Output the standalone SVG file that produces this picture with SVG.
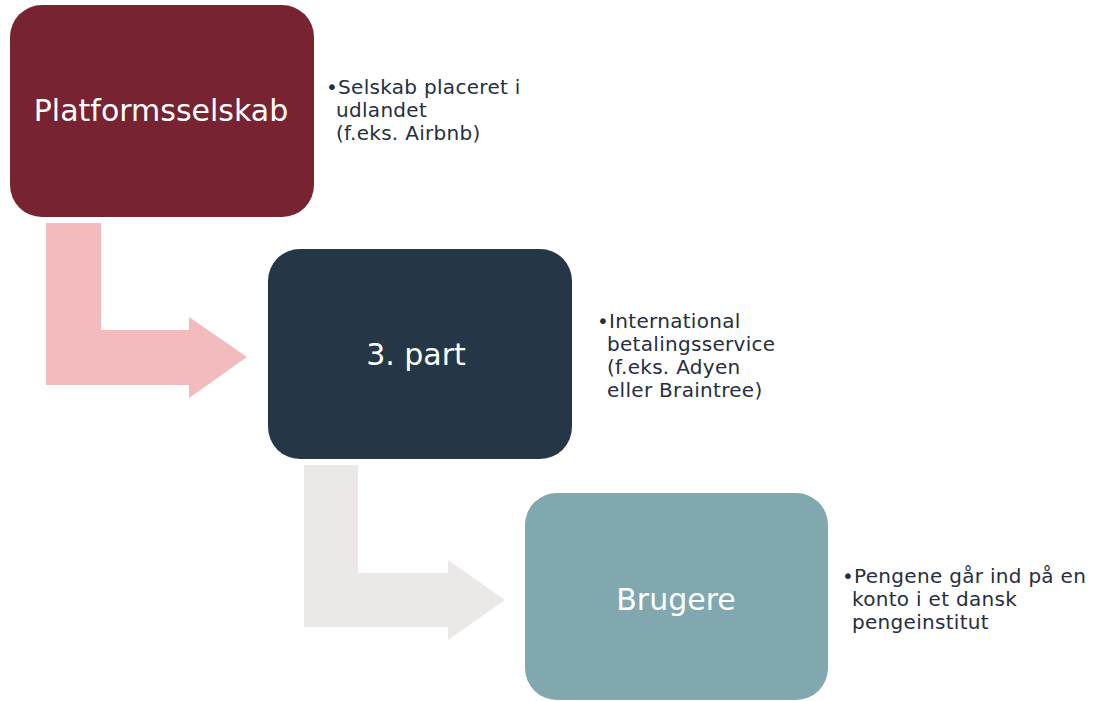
<svg xmlns="http://www.w3.org/2000/svg" width="1101" height="701" viewBox="0 0 1101 701">
<style>
.lbl{font-family:"DejaVu Sans","Liberation Sans",sans-serif;font-size:30px;fill:#ffffff;text-anchor:middle}
.note{font-family:"DejaVu Sans","Liberation Sans",sans-serif;font-size:20px;fill:#262F3D;letter-spacing:0.3px}
</style>
<rect width="1101" height="701" fill="#ffffff"/>
<g id="connectors">
<path d="M46,223 H101 V330 H189 V317 L247,357 L189,398 V385 H46 Z" fill="#F2BBBE"/>
<path d="M304,465 H358 V573 H448 V560 L505,600 L448,640 V627 H304 Z" fill="#ECE8E7"/>
</g>
<g id="node1">
<rect x="10" y="5" width="304" height="212" rx="32" fill="#772331"/>
<text class="lbl" x="161" y="121">Platformsselskab</text>
<text class="note" x="326" y="94">•Selskab placeret i</text>
<text class="note" x="336" y="117">udlandet</text>
<text class="note" x="336" y="140">(f.eks. Airbnb)</text>
</g>
<g id="node2">
<rect x="268" y="249" width="304" height="210" rx="32" fill="#253646"/>
<text class="lbl" x="416" y="365">3. part</text>
<text class="note" x="597" y="328">•International</text>
<text class="note" x="607" y="351">betalingsservice</text>
<text class="note" x="607" y="374">(f.eks. Adyen</text>
<text class="note" x="607" y="397">eller Braintree)</text>
</g>
<g id="node3">
<rect x="525" y="493" width="303" height="207" rx="32" fill="#80A8AE"/>
<text class="lbl" x="676" y="610">Brugere</text>
<text class="note" x="842" y="583">•Pengene går ind på en</text>
<text class="note" x="852" y="606">konto i et dansk</text>
<text class="note" x="852" y="629">pengeinstitut</text>
</g>
</svg>
